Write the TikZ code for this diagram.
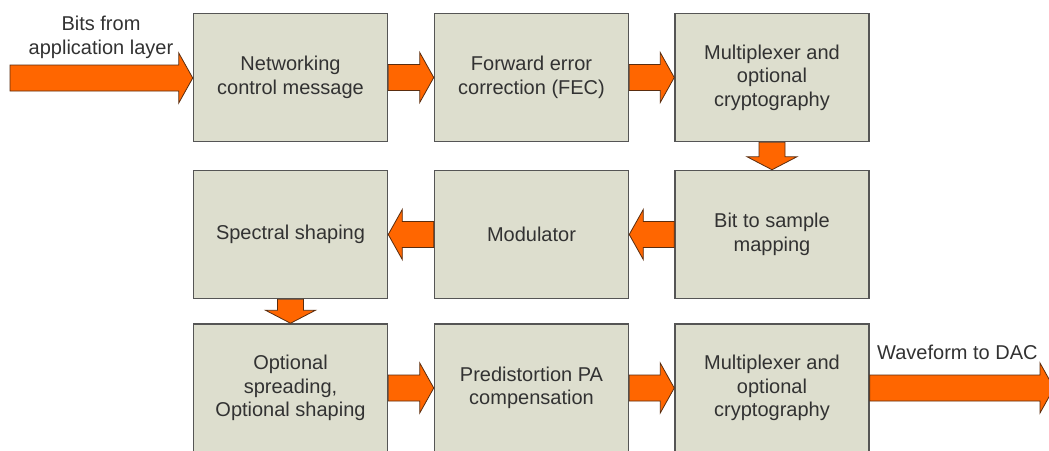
\documentclass[tikz,border=0pt]{standalone}
\usepackage{fontspec}
\setmainfont{Liberation Sans}
\usetikzlibrary{calc}

\definecolor{boxfill}{RGB}{221,222,206}
\definecolor{boxline}{RGB}{85,85,85}
\definecolor{flowfill}{RGB}{255,102,0}
\definecolor{flowline}{RGB}{90,45,15}
\definecolor{txt}{RGB}{50,50,50}

% block arrows built from two anchors: shaft half-height 13, head half-height 25, head length 14
\newcommand\flowright[2]{%
  \draw[flow] let \p1=(#1), \p2=(#2) in
    (\x1,\y1+13pt) -- (\x2-14pt,\y1+13pt) -- (\x2-14pt,\y1+25pt) -- (\x2,\y1)
    -- (\x2-14pt,\y1-25pt) -- (\x2-14pt,\y1-13pt) -- (\x1,\y1-13pt) -- cycle;}
\newcommand\flowleft[2]{%
  \draw[flow] let \p1=(#1), \p2=(#2) in
    (\x1,\y1+13pt) -- (\x2+14pt,\y1+13pt) -- (\x2+14pt,\y1+25pt) -- (\x2,\y1)
    -- (\x2+14pt,\y1-25pt) -- (\x2+14pt,\y1-13pt) -- (\x1,\y1-13pt) -- cycle;}
\newcommand\flowdown[2]{%
  \draw[flow] let \p1=(#1), \p2=(#2) in
    (\x1-13pt,\y1) -- (\x1-13pt,\y2+13pt) -- (\x1-25pt,\y2+13pt) -- (\x1,\y2)
    -- (\x1+25pt,\y2+13pt) -- (\x1+13pt,\y2+13pt) -- (\x1+13pt,\y1) -- cycle;}

\begin{document}
\begin{tikzpicture}[x=1pt,y=-1pt,
  block/.style={draw=boxline, line width=1.5pt, fill=boxfill,
    minimum width=194pt, minimum height=128pt, inner sep=0pt,
    align=center, text=txt, font=\fontsize{20}{23.5}\selectfont},
  flow/.style={fill=flowfill, draw=flowline, line width=0.8pt, line join=miter},
  lbl/.style={text=txt, inner sep=0pt, align=center, font=\fontsize{20}{24.5}\selectfont}]

\useasboundingbox[fill=white] (0,0) rectangle (1049,450);

% first row
\node[block] (net)  at (290.5,77.5) {Networking\\control message};
\node[block] (fec)  at (531.5,77.5) {Forward error\\correction (FEC)};
\node[block] (mux1) at (772,77.5)   {Multiplexer and\\optional\\cryptography};
% second row
\node[block] (spec) at (290.5,234.5) {Spectral shaping};
\node[block] (mod)  at (531.5,234.5) {Modulator};
\node[block] (map)  at (772,234.5)   {Bit to sample\\mapping};
% third row
\node[block] (spread) at (290.5,388) {Optional\\spreading,\\Optional shaping};
\node[block] (pre)    at (531.5,388) {Predistortion PA\\compensation};
\node[block] (mux2)   at (772,388)   {Multiplexer and\\optional\\cryptography};

% free ends of the input and output arrows
\coordinate (src) at (10,78);
\coordinate (dac) at (1054,388);

\node[lbl] (inlbl) at (101,37.5) {Bits from\\application layer};
\node[lbl, anchor=base west] (outlbl) at (877,359) {Waveform to DAC};

% signal flow
\flowright{src}{net.west}
\flowright{net.east}{fec.west}
\flowright{fec.east}{mux1.west}
\flowdown{mux1.south}{map.north}
\flowleft{map.west}{mod.east}
\flowleft{mod.west}{spec.east}
\flowdown{spec.south}{spread.north}
\flowright{spread.east}{pre.west}
\flowright{pre.east}{mux2.west}
\flowright{mux2.east}{dac}
\end{tikzpicture}
\end{document}
